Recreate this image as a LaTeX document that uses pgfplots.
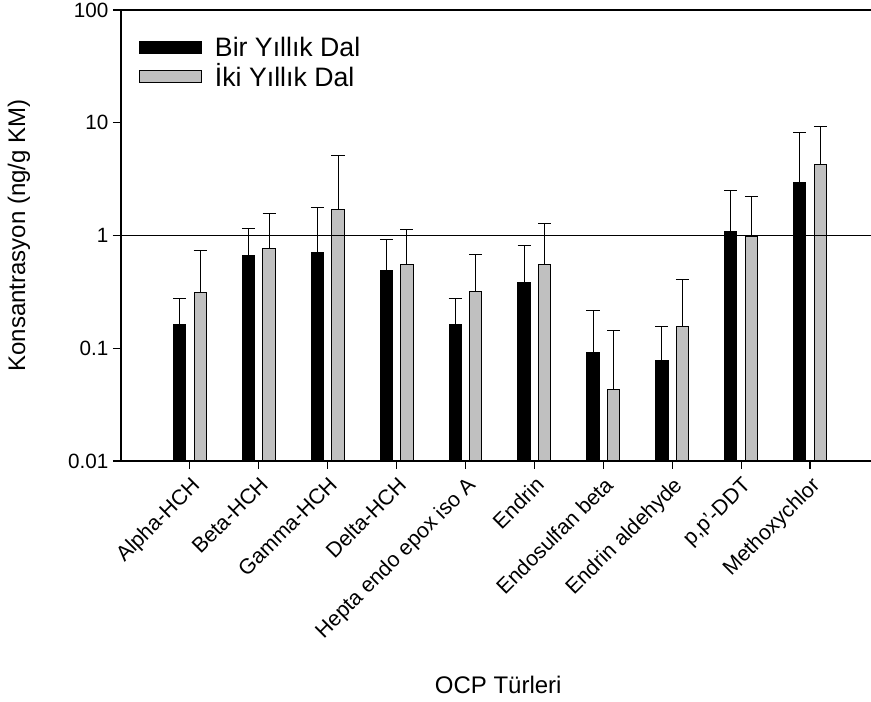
\documentclass[border=0pt]{standalone}
\usepackage{fontspec}
\setmainfont{Liberation Sans}
\usepackage{pgfplots}
\usepackage{pgfplotstable}
\pgfplotsset{compat=1.18}

% mean concentration and upper error (ng/g KM)
\pgfplotstableread{
x y err
0 0.161 0.115
1 0.659 0.501
2 0.711 1.049
3 0.492 0.435
4 0.161 0.113
5 0.383 0.426
6 0.0908 0.125
7 0.0771 0.080
8 1.08 1.44
9 2.93 5.27
}\bir

\pgfplotstableread{
x y err
0 0.314 0.422
1 0.767 0.803
2 1.71 3.42
3 0.553 0.577
4 0.316 0.366
5 0.549 0.721
6 0.0435 0.1015
7 0.155 0.249
8 0.98 1.22
9 4.29 4.98
}\iki

\definecolor{barGray}{RGB}{192,192,192}
\newcommand\tickfont{\fontsize{15.5}{18}\selectfont}
\newcommand\xtickfont{\fontsize{16}{18}\selectfont}
\newcommand\labfont{\fontsize{18}{21}\selectfont}
\newcommand\legfont{\fontsize{20}{23}\selectfont}

\begin{document}
\begin{tikzpicture}
\useasboundingbox (-90.75pt,-180.75pt) rectangle (562.5pt,345.75pt);
\begin{axis}[
  scale only axis,
  width=562.5pt, height=338.25pt,
  ymode=log, log origin y=infty,
  ymin=0.01, ymax=100,
  xmin=-1, xmax=9.885,
  axis x line*=box, axis y line*=left,
  axis line style={black, line width=0.8pt},
  xtick pos=left, ytick pos=left,
  tick align=outside,
  major tick length=6pt,
  tick style={black, line width=0.8pt},
  ytick={0.01,0.1,1,10,100},
  yticklabels={0.01,0.1,1,10,100},
  yminorticks=false,
  xtick={0,...,9},
  xticklabels={Alpha-HCH,Beta-HCH,Gamma-HCH,Delta-HCH,Hepta endo epox iso A,Endrin,Endosulfan beta,Endrin aldehyde,{p,p'-DDT},Methoxychlor},
  xticklabel style={rotate=45, anchor=north east, font=\xtickfont},
  yticklabel style={font=\tickfont},
  extra y ticks={1},
  extra y tick labels={},
  extra y tick style={grid=major, major grid style={black, line width=0.8pt}},
  axis on top,
  ylabel={Konsantrasyon (ng/g KM)},
  xlabel={OCP Türleri},
  ylabel style={at={(axis description cs:-0.136,0.5)}, anchor=center, font=\labfont},
  xlabel style={at={(axis description cs:0.503,-0.497)}, anchor=center, font=\labfont},
  legend style={at={(axis description cs:0.0,1.0)}, anchor=north west,
    xshift=10pt, yshift=-16pt, draw=none, fill=none, font=\legfont,
    row sep=0pt, column sep=8pt},
  legend cell align=left,
]
% bars sit left and right of each category tick
\addplot[ybar, bar width=9.2pt, bar shift=0pt, fill=black, draw=black, line width=0.75pt,
  legend image code/.code={\draw[fill=black, draw=black, line width=0.8pt] (0pt,-4.5pt) rectangle (46.5pt,4.5pt);},
  error bars/.cd, y dir=plus, y explicit,
  error bar style={black, line width=0.75pt},
  error mark options={black, line width=0.75pt, mark size=4.9pt, rotate=90}]
  table[x expr=\thisrow{x}-0.1495, y=y, y error=err] {\bir};
\addlegendentry{Bir Yıllık Dal}
\addplot[ybar, bar width=9.2pt, bar shift=0pt, fill=barGray, draw=black, line width=0.75pt,
  legend image code/.code={\draw[fill=barGray, draw=black, line width=0.8pt] (0pt,-4.5pt) rectangle (46.5pt,4.5pt);},
  error bars/.cd, y dir=plus, y explicit,
  error bar style={black, line width=0.75pt},
  error mark options={black, line width=0.75pt, mark size=4.9pt, rotate=90}]
  table[x expr=\thisrow{x}+0.1495, y=y, y error=err] {\iki};
\addlegendentry{İki Yıllık Dal}
\end{axis}
\end{tikzpicture}
\end{document}
